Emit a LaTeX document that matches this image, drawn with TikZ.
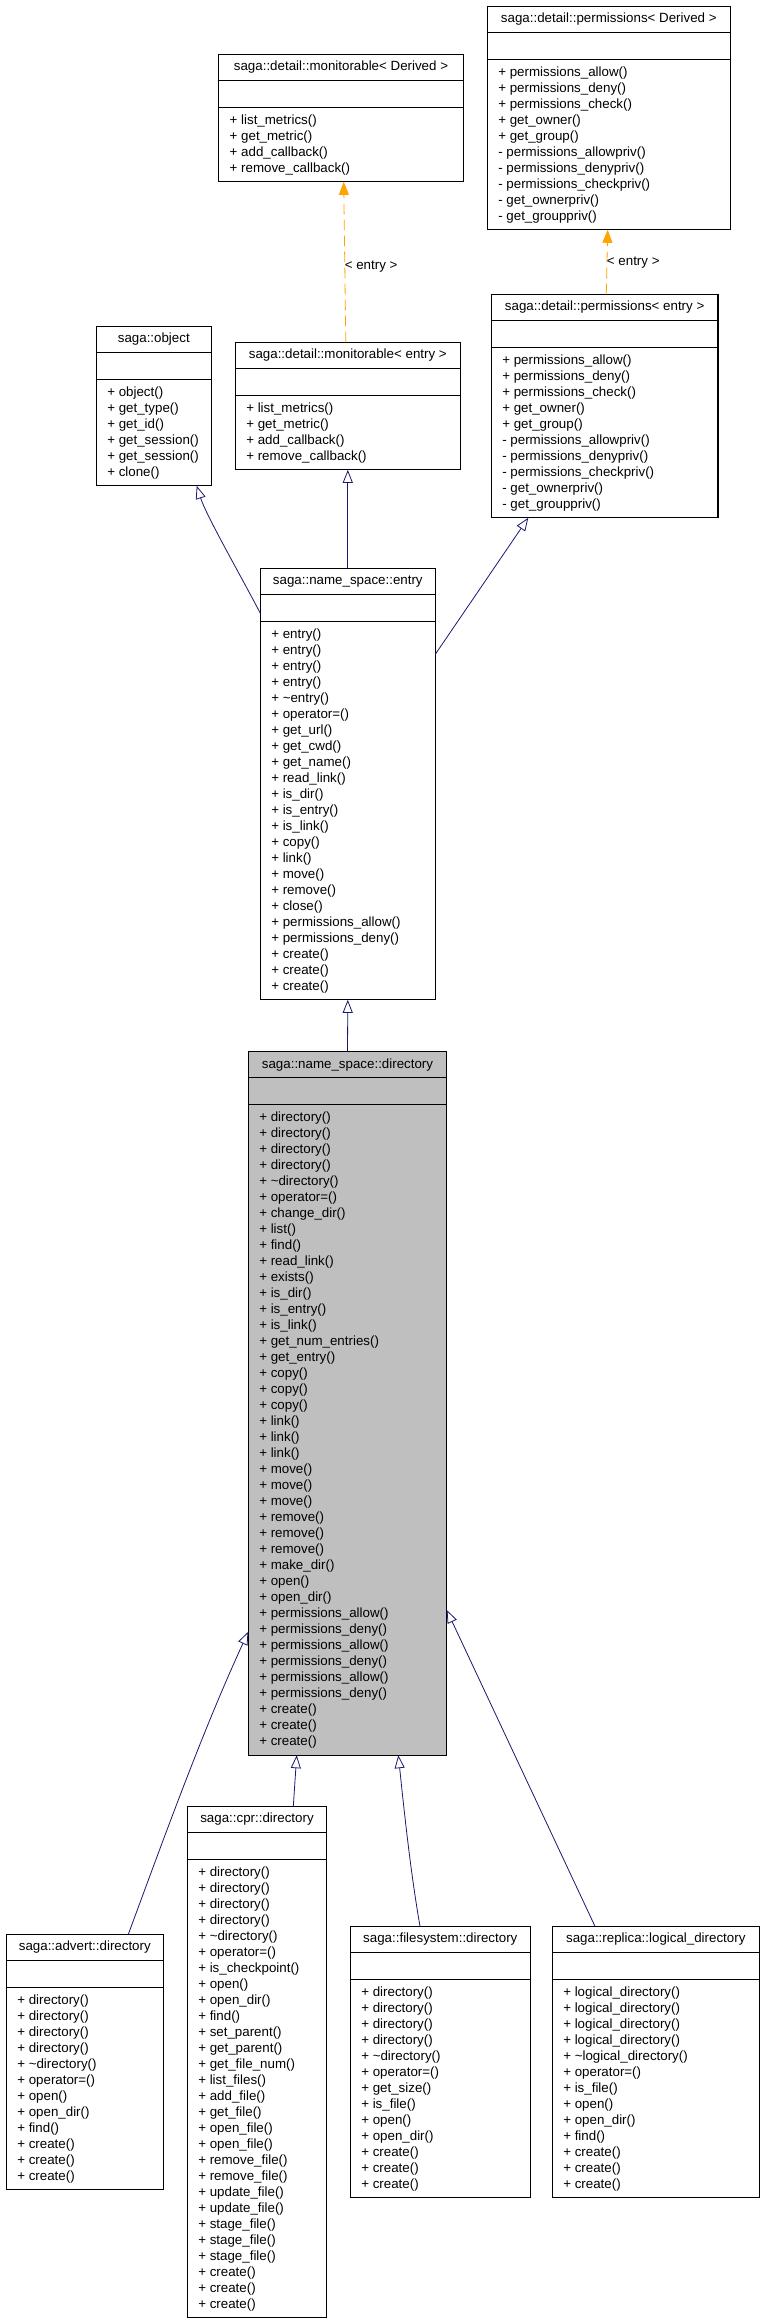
\documentclass[tikz,border=0pt]{standalone}
\usepackage{fontspec}
\setmainfont{Liberation Sans}
\usetikzlibrary{arrows.meta,calc}
\definecolor{edgeblue}{HTML}{191970}
\definecolor{dorange}{HTML}{FFA500}
\definecolor{dirgray}{HTML}{BFBFBF}
\tikzset{
  classframe/.style={draw=black, line width=0.8pt, inner sep=0pt, outer sep=0pt},
  classline/.style={draw=black, line width=0.8pt},
  classtext/.style={inner sep=0pt, outer sep=0pt, font=\fontsize{10}{12}\selectfont},
  inh/.style={draw=edgeblue, line width=0.6pt, -{Triangle[open, length=9.75pt, width=7.5pt]}},
  tmpl/.style={draw=dorange, line width=0.6pt, dash pattern=on 8pt off 4pt, -{Triangle[length=9.75pt, width=7.5pt]}},
  tmpllabel/.style={inner sep=0pt, outer sep=0pt, anchor=mid west, font=\fontsize{10}{12}\selectfont}
}
% #1 name, #2 left, #3 top, #4 right, #5 fill, #6 header, #7 number of rows, #8 rows
\newcommand\umlclass[8]{%
  \pgfmathsetmacro\ubot{#3+53+16*#7+10.5}%
  \node[classframe, fill=#5, anchor=north west, minimum width={(#4-#2)*0.75pt}, minimum height={(\ubot-#3)*0.75pt}] (#1) at (#2,#3) {};
  \draw[classline] (#2,#3+26) -- (#4,#3+26);
  \draw[classline] (#2,#3+53) -- (#4,#3+53);
  \node[classtext, anchor=mid] (#1-title) at ({(#2+#4)/2},#3+13) {#6};
  \foreach \t [count=\i from 0] in {#8} {
    \node[classtext, anchor=mid west] (#1-r\i) at (#2+11, {#3+53+13.25+16*\i}) {\t};
  }
}
\begin{document}
\begin{tikzpicture}[x=0.75pt, y=-0.75pt]
\fill[white] (0,0) rectangle (763,2323);
\useasboundingbox (0,0) rectangle (763,2323);

\umlclass{permD}{487.3}{6.3}{730.3}{white}{saga::detail::permissions< Derived >}{10}{%
+ permissions\_allow(), + permissions\_deny(), + permissions\_check(), + get\_owner(), + get\_group(),
- permissions\_allowpriv(), - permissions\_denypriv(), - permissions\_checkpriv(), - get\_ownerpriv(), - get\_grouppriv()}

\umlclass{monD}{218.7}{54.3}{463.3}{white}{saga::detail::monitorable< Derived >}{4}{%
+ list\_metrics(), + get\_metric(), + add\_callback(), + remove\_callback()}

\umlclass{object}{96.3}{326.3}{211.3}{white}{saga::object}{6}{%
+ object(), + get\_type(), + get\_id(), + get\_session(), + get\_session(), + clone()}

\umlclass{monE}{235.3}{342.3}{460.3}{white}{saga::detail::monitorable< entry >}{4}{%
+ list\_metrics(), + get\_metric(), + add\_callback(), + remove\_callback()}

\umlclass{permE}{491.3}{294.3}{718}{white}{saga::detail::permissions< entry >}{10}{%
+ permissions\_allow(), + permissions\_deny(), + permissions\_check(), + get\_owner(), + get\_group(),
- permissions\_allowpriv(), - permissions\_denypriv(), - permissions\_checkpriv(), - get\_ownerpriv(), - get\_grouppriv()}

\umlclass{entry}{260.3}{568.3}{435.3}{white}{saga::name\_space::entry}{23}{%
+ entry(), + entry(), + entry(), + entry(), + \textasciitilde entry(), + operator=(), + get\_url(), + get\_cwd(),
+ get\_name(), + read\_link(), + is\_dir(), + is\_entry(), + is\_link(), + copy(), + link(), + move(),
+ remove(), + close(), + permissions\_allow(), + permissions\_deny(), + create(), + create(), + create()}

\umlclass{directory}{248.3}{1051.7}{446.7}{dirgray}{saga::name\_space::directory}{40}{%
+ directory(), + directory(), + directory(), + directory(), + \textasciitilde directory(), + operator=(),
+ change\_dir(), + list(), + find(), + read\_link(), + exists(), + is\_dir(), + is\_entry(), + is\_link(),
+ get\_num\_entries(), + get\_entry(), + copy(), + copy(), + copy(), + link(), + link(), + link(),
+ move(), + move(), + move(), + remove(), + remove(), + remove(), + make\_dir(), + open(), + open\_dir(),
+ permissions\_allow(), + permissions\_deny(), + permissions\_allow(), + permissions\_deny(),
+ permissions\_allow(), + permissions\_deny(), + create(), + create(), + create()}

\umlclass{advert}{6.3}{1934.3}{163.3}{white}{saga::advert::directory}{12}{%
+ directory(), + directory(), + directory(), + directory(), + \textasciitilde directory(), + operator=(),
+ open(), + open\_dir(), + find(), + create(), + create(), + create()}

\umlclass{cpr}{187.3}{1806.3}{326.7}{white}{saga::cpr::directory}{28}{%
+ directory(), + directory(), + directory(), + directory(), + \textasciitilde directory(), + operator=(),
+ is\_checkpoint(), + open(), + open\_dir(), + find(), + set\_parent(), + get\_parent(), + get\_file\_num(),
+ list\_files(), + add\_file(), + get\_file(), + open\_file(), + open\_file(), + remove\_file(), + remove\_file(),
+ update\_file(), + update\_file(), + stage\_file(), + stage\_file(), + stage\_file(), + create(), + create(), + create()}

\umlclass{fs}{350.3}{1926.3}{530.3}{white}{saga::filesystem::directory}{13}{%
+ directory(), + directory(), + directory(), + directory(), + \textasciitilde directory(), + operator=(),
+ get\_size(), + is\_file(), + open(), + open\_dir(), + create(), + create(), + create()}

\umlclass{replica}{552.3}{1926.3}{759.3}{white}{saga::replica::logical\_directory}{13}{%
+ logical\_directory(), + logical\_directory(), + logical\_directory(), + logical\_directory(),
+ \textasciitilde logical\_directory(), + operator=(), + is\_file(), + open(), + open\_dir(), + find(),
+ create(), + create(), + create()}

% template instantiation (dashed orange)
\draw[tmpl] ($(monE.north)+(-2,0)$) -- node[tmpllabel, pos=0.476] (lblMon) {< entry >} ($(monD.south)+(2.7,0)$);
\draw[tmpl] ($(permE.north)+(1.6,0)$) -- node[tmpllabel, pos=0.5] (lblPerm) {< entry >} ($(permD.south)+(-1.1,0)$);

% inheritance (navy, open triangles)
\draw[inh] ($(entry.north west)+(0,45)$) .. controls ($(entry.north west)+(-17,12)$) and ($(object.south east)+(-5,30)$) .. ($(object.south east)+(-14.6,0)$);
\draw[inh] (entry.north) -- (monE.south);
\draw[inh] ($(entry.north east)+(0,86)$) -- ($(permE.south west)+(37,0)$);
\draw[inh] (directory.north) -- (entry.south);
\draw[inh] ($(advert.north east)+(-35,0)$) .. controls ($(advert.north east)+(2,-100)$) and ($(directory.north west)+(-46,680)$) .. ($(directory.north west)+(0,580)$);
\draw[inh] ($(cpr.north)+(36.3,0)$) -- ($(directory.south)+(-50.8,0)$);
\draw[inh] ($(fs.north)+(-20.3,0)$) .. controls ($(fs.north)+(-29.9,-55)$) and ($(directory.south)+(56.6,55)$) .. ($(directory.south)+(50.8,0)$);
\draw[inh] ($(replica.north)+(-60.8,0)$) -- ($(directory.north east)+(0,558.3)$);
\end{tikzpicture}
\end{document}
